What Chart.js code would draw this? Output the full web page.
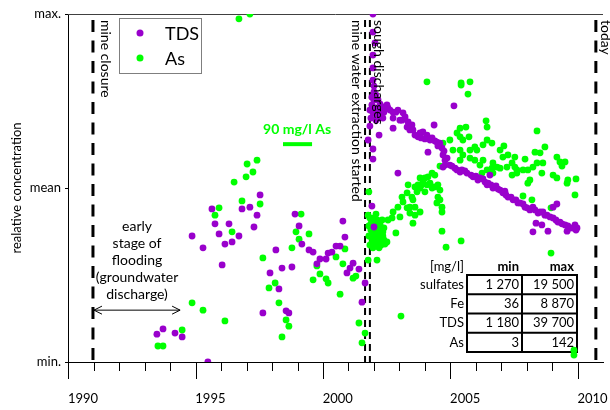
<!DOCTYPE html>
<html>
<head>
<meta charset="utf-8">
<script src="https://cdn.jsdelivr.net/npm/chart.js@4/dist/chart.umd.min.js"></script>
<style>
  html, body { margin: 0; padding: 0; background: #fff; }
  canvas { display: block; }
</style>
</head>
<body>
<canvas id="c" width="610" height="410"></canvas>
<script>
// Relative concentration (0 = min, 50 = mean, 100 = max) against time in years.
const tdsYears = [
  1992.90, 1993.14, 1993.61, 1993.89, 1994.28, 1994.71, 1994.90, 1995.06, 1995.18, 1995.34,
  1995.46, 1995.57, 1995.73, 1995.85, 1996.12, 1996.24, 1996.55, 1996.71, 1996.83, 1996.95,
  1997.06, 1997.34, 1997.57, 1997.69, 1997.81, 1997.97, 1998.08, 1998.20, 1998.32, 1998.48,
  1998.59, 1998.87, 1999.03, 1999.18, 1999.30, 1999.54, 1999.62, 1999.77, 1999.93, 2000.09,
  2000.20, 2000.28, 2000.36, 2000.48, 2000.60, 2000.83, 2000.95, 2001.07,
  2001.38, 2001.38, 2001.46, 2001.38, 2001.38, 2001.38, 2001.26, 2001.42, 2001.34, 2001.42,
  2001.50, 2001.58, 2001.66, 2001.34, 2001.46, 2001.58, 2001.74, 2001.38, 2001.54, 2001.70,
  2001.62, 2001.19, 2001.38, 2001.38, 2001.62, 2001.34, 2001.42, 2001.97, 2002.05, 2002.17,
  2002.36, 2002.56, 2002.52, 2002.17, 2002.44, 2002.17, 2002.72, 2002.83, 2003.03, 2003.15,
  2003.34, 2003.50, 2003.62, 2003.78, 2003.89, 2004.01, 2003.54, 2004.09, 2004.13, 2004.21,
  2004.13, 2004.40, 2004.56, 2004.68, 2004.80, 2005.07, 2005.31, 2005.58, 2005.78, 2005.97,
  2005.86, 2006.09, 2006.37, 2006.48, 2006.68, 2006.88, 2007.15, 2007.35, 2007.54, 2007.66,
  2007.94, 2008.21, 2008.45, 2008.60, 2008.45, 2008.72, 2008.92, 2009.11, 2009.31, 2009.39,
  2007.78, 2008.01, 2008.25, 2007.66, 2009.00, 2002.36,
  2001.26, 2001.81, 2001.50, 2001.30, 2001.77, 2001.42,
  2001.93, 2002.28, 2002.64, 2002.76, 2002.91, 2002.95, 2003.23, 2003.27, 2003.42, 2003.70,
  2003.81, 2003.93, 2004.17, 2004.29, 2004.21,
  2004.48, 2004.60, 2004.87, 2004.99, 2005.23, 2005.42, 2005.50, 2005.70, 2005.90, 2006.01,
  2006.21, 2006.29, 2006.56, 2006.60, 2006.80, 2006.99, 2007.07, 2007.27, 2007.43, 2007.74,
  2007.86, 2008.05, 2008.13, 2008.33, 2008.56, 2008.64, 2008.80, 2009.03, 2009.23, 2009.35
];
const tdsValues = [
  8.0, 9.5, 8.3, 7.2, 36.2, 32.8, 0.0, 44.0, 39.7, 36.8,
  27.9, 33.9, 39.7, 34.5, 36.2, 44.0, 44.5, 38.8, 42.2, 48.0,
  14.1, 25.6, 32.2, 21.0, 27.0, 14.7, 14.1, 27.3, 42.5, 39.1,
  33.9, 32.2, 31.6, 28.2, 29.6, 29.6, 31.3, 31.6, 33.3, 33.3,
  40.5, 35.9, 25.6, 27.0, 28.4, 26.7, 17.2, 22.7,
  100.0, 94.8, 91.7, 88.2, 84.5, 81.0, 67.8, 77.6, 76.1, 75.3,
  76.7, 75.3, 74.1, 73.9, 73.0, 72.4, 73.3, 71.6, 71.0, 71.6,
  70.1, 63.8, 61.2, 58.3, 65.2, 44.8, 38.8, 73.0, 72.4, 71.8,
  72.4, 71.6, 69.5, 70.1, 69.5, 67.2, 67.5, 66.7, 65.2, 64.7,
  66.1, 65.2, 63.8, 68.1, 63.2, 62.9, 60.3, 61.5, 59.5, 58.0,
  56.0, 56.6, 73.6, 55.2, 54.6, 54.3, 53.2, 52.9, 51.7, 53.7,
  50.9, 50.0, 49.4, 48.6, 47.4, 46.6, 45.7, 44.5, 43.7, 44.5,
  43.1, 42.2, 41.4, 45.4, 44.5, 40.2, 39.4, 38.5, 39.4, 38.5,
  39.9, 39.4, 37.6, 37.4, 37.6, 54.3,
  72.4, 71.8, 69.5, 70.1, 70.1, 79.3,
  73.9, 71.8, 70.4, 69.0, 68.1, 66.7, 65.8, 64.4, 64.1, 64.4,
  63.5, 62.1, 60.6, 58.6, 56.6,
  56.3, 55.7, 55.2, 54.9, 53.7, 53.4, 52.3, 52.6, 51.4, 50.9,
  50.6, 49.7, 49.1, 48.0, 47.4, 46.6, 45.7, 45.4, 44.3, 43.7,
  42.8, 43.1, 42.2, 41.7, 40.8, 40.2, 39.7, 39.1, 38.5, 37.9
];

const asYears = [
  1992.94, 1993.14, 1993.89, 1994.28, 1994.71, 1995.18, 1995.34, 1995.57, 1995.85, 1995.93,
  1996.12, 1996.24, 1996.40, 1996.44, 1996.55, 1996.67, 1996.83, 1996.95, 1997.06, 1997.30,
  1997.54, 1997.69, 1997.81, 1997.97, 1998.08, 1998.20, 1998.36, 1998.48, 1998.56, 1998.87,
  1999.03, 1999.18, 1999.30, 1999.54, 1999.62, 1999.93, 2000.09, 2000.20, 2000.28, 2000.60,
  2000.71, 2000.83, 2000.95, 2001.07, 2001.22, 2001.54,
  2001.26, 2001.34, 2001.42, 2001.50, 2001.58, 2001.66, 2001.34, 2001.46, 2001.77, 2001.66,
  2001.81, 2001.30, 2001.54, 2001.74, 2001.38, 2001.62, 2001.85, 2001.26, 2001.50, 2001.19,
  2001.93, 2002.48,
  2001.19, 2001.30, 2001.42, 2001.54, 2001.66, 2001.77, 2001.22, 2001.34, 2001.46, 2001.58,
  2001.70, 2001.50, 2001.22, 2001.81, 2001.38, 2001.62,
  2001.97, 2002.13, 2002.17, 2002.44, 2002.28, 2002.36, 2002.52, 2002.56, 2002.72, 2002.83,
  2002.72, 2002.83, 2002.91, 2002.95, 2003.03, 2003.03, 2003.23, 2002.95, 2002.76, 2003.03,
  2003.11, 2003.15, 2003.23, 2003.42, 2003.23, 2003.34, 2003.30, 2003.50, 2003.62, 2003.42,
  2003.54, 2003.70, 2003.81, 2003.70, 2003.81, 2003.93, 2004.01, 2003.93, 2004.01, 2003.89,
  2004.09, 2004.09, 2004.09, 2004.25, 2004.84, 2004.01, 2004.13, 2004.40, 2004.52,
  2003.50, 2004.84, 2005.19, 2004.84, 2005.11, 2005.82, 2005.86, 2007.82, 2004.80, 2005.03,
  2004.68, 2004.80, 2004.91, 2005.15, 2005.86, 2006.05, 2005.70, 2005.38, 2006.52, 2007.74,
  2007.94, 2008.13, 2004.80, 2005.19, 2005.46, 2006.37, 2006.48, 2006.68, 2006.95, 2007.35,
  2008.60, 2008.72, 2008.92, 2008.80, 2005.19, 2005.38, 2005.70, 2005.58, 2004.80, 2004.91,
  2006.09, 2006.25, 2006.37, 2006.64, 2006.84, 2006.95, 2007.03, 2007.27, 2007.46, 2007.66,
  2007.82, 2008.05, 2006.05, 2006.09, 2008.45, 2008.60, 2009.35, 2009.03, 2009.00, 2005.66,
  2005.86, 2006.84, 2007.03, 2007.54, 2007.46, 2008.01, 2007.27, 2009.31, 2007.62, 2008.37,
  2008.37, 2009.27, 2009.27
];
const asValues = [
  4.6, 4.6, 9.2, 17.0, 14.9, 42.2, 44.3, 11.8, 37.4, 51.7,
  98.6, 46.3, 53.2, 56.9, 100.0, 54.6, 58.0, 45.4, 29.9, 21.3,
  22.7, 17.0, 7.2, 12.1, 10.3, 32.8, 37.4, 35.3, 42.5, 36.8,
  23.6, 27.6, 25.3, 23.9, 22.7, 30.2, 19.5, 28.2, 32.5, 24.1,
  24.7, 11.2, 5.5, 8.3, 48.9, 29.3,
  41.4, 40.2, 39.1, 37.9, 36.8, 35.6, 35.6, 34.5, 36.2, 39.4,
  38.5, 37.9, 40.8, 40.8, 37.1, 34.5, 33.9, 33.6, 33.3, 29.3,
  34.5, 13.2,
  42.2, 39.7, 41.4, 39.1, 37.6, 37.4, 36.2, 34.2, 36.2, 35.1,
  33.6, 42.5, 39.1, 35.1, 32.8, 32.8,
  40.8, 41.4, 43.1, 41.7, 37.1, 44.5, 47.4, 46.0, 48.6, 44.5,
  44.3, 42.8, 47.4, 46.6, 44.5, 42.2, 43.1, 39.9, 50.9, 50.3,
  48.9, 50.9, 50.0, 48.9, 52.9, 51.7, 50.9, 50.9, 51.4, 52.9,
  53.2, 54.3, 53.7, 50.0, 50.3, 50.9, 49.4, 47.4, 46.6, 45.7,
  44.5, 43.1, 37.6, 33.0, 34.8, 56.3, 62.9, 63.8, 60.9,
  80.5, 80.2, 80.5, 79.6, 77.0, 69.3, 67.5, 66.4, 67.2, 67.5,
  65.8, 64.7, 63.8, 64.7, 63.8, 62.9, 62.4, 61.8, 62.1, 60.3,
  60.1, 61.8, 60.9, 60.9, 60.9, 60.9, 58.9, 59.5, 58.9, 58.3,
  58.9, 57.5, 57.5, 56.3, 58.6, 58.0, 58.0, 56.6, 58.0, 59.5,
  57.2, 56.0, 55.7, 56.0, 57.2, 56.0, 55.2, 55.2, 55.2, 56.0,
  57.2, 57.2, 55.7, 54.3, 53.7, 52.9, 52.6, 52.3, 51.4, 54.3,
  55.2, 53.7, 54.3, 52.3, 51.4, 54.3, 47.7, 48.0, 46.6, 44.3,
  31.3, 2.0, 3.4
];

// Axis labels
const yearLabels = [1990, 1995, 2000, 2005, 2010];
const levelTicks = [0, 50, 100];
const levelNames = ['min.', 'mean', 'max.'];

// Events marked by vertical dashed lines
const eventYears = [1990.39, 2001.07, 2001.26, 2010.13];
const eventNames = ['mine closure', 'mine water extraction started', 'sough discharges', 'today'];

// Concentration ranges table
const tableHeader = ['[mg/l]', 'min', 'max'];
const tableRows = ['sulfates', 'Fe', 'TDS', 'As'];
const tableMin = ['1 270', '36', '1 180', '3'];
const tableMax = ['19 500', '8 870', '39 700', '142'];

const PURPLE = '#9900cc';
const GREEN = '#00ff00';
const FONT = 'Lato, "Open Sans", sans-serif';

const firstTick = 1989.42;   // yearly tick marks start here
const tickCount = 21;

const decorations = {
  id: 'decorations',
  beforeDatasetsDraw(chart) {
    const { ctx, chartArea: a, scales: { x, y } } = chart;
    ctx.save();

    // upper frame line
    ctx.strokeStyle = '#404040';
    ctx.lineWidth = 1;
    ctx.beginPath();
    ctx.moveTo(a.left, Math.round(y.getPixelForValue(100)) + 0.5);
    ctx.lineTo(a.right, Math.round(y.getPixelForValue(100)) + 0.5);
    ctx.stroke();

    // yearly tick marks below the time axis, long every fifth year
    ctx.strokeStyle = '#000';
    for (let k = 0; k < tickCount; k++) {
      const px = Math.round(x.getPixelForValue(firstTick + k)) + 0.5;
      const len = k % 5 === 0 ? 17 : 9;
      ctx.beginPath();
      ctx.moveTo(px, a.bottom);
      ctx.lineTo(px, a.bottom + len);
      ctx.stroke();
    }

    // event lines: single heavy dashes, the two 2001 events as a thin pair
    eventYears.forEach((yr, i) => {
      const px = x.getPixelForValue(yr);
      const pair = i === 1 || i === 2;
      ctx.lineWidth = pair ? 2 : 3;
      ctx.setLineDash(pair ? [7, 5] : [12, 8.5]);
      ctx.beginPath();
      ctx.moveTo(px, a.top + 6);
      ctx.lineTo(px, a.bottom);
      ctx.stroke();
    });
    ctx.setLineDash([]);

    // early flooding arrow and note
    const ay = y.getPixelForValue(14.9);
    const ax1 = x.getPixelForValue(eventYears[0]) + 1;
    const ax2 = x.getPixelForValue(1993.81);
    ctx.lineWidth = 1;
    ctx.strokeStyle = '#000';
    ctx.beginPath();
    ctx.moveTo(ax1, ay); ctx.lineTo(ax2, ay);
    ctx.moveTo(ax1 + 8, ay - 4); ctx.lineTo(ax1, ay); ctx.lineTo(ax1 + 8, ay + 4);
    ctx.moveTo(ax2 - 8, ay - 4); ctx.lineTo(ax2, ay); ctx.lineTo(ax2 - 8, ay + 4);
    ctx.stroke();

    ctx.fillStyle = '#000';
    ctx.font = '14px ' + FONT;
    ctx.textAlign = 'center';
    ctx.textBaseline = 'middle';
    const nx = x.getPixelForValue(1992.12);
    const ny = y.getPixelForValue(38.8);
    ['early', 'stage of', 'flooding', '(groundwater', 'discharge)'].forEach((t, i) => {
      ctx.fillText(t, nx, ny + i * 17);
    });

    // arsenic scale note
    ctx.fillStyle = GREEN;
    ctx.font = 'bold 14px ' + FONT;
    ctx.fillText('90 mg/l As', x.getPixelForValue(1998.4), y.getPixelForValue(66.7));
    ctx.strokeStyle = GREEN;
    ctx.lineWidth = 4;
    ctx.beginPath();
    ctx.moveTo(x.getPixelForValue(1997.85), y.getPixelForValue(62.6));
    ctx.lineTo(x.getPixelForValue(1998.99), y.getPixelForValue(62.6));
    ctx.stroke();

    // concentration table
    const tl = a.right - 136, tr = a.right - 26, tm = a.right - 81;
    const tt = a.top + 261, rowH = 19.25;
    const tb = tt + rowH * 4;
    ctx.strokeStyle = '#000';
    ctx.lineWidth = 2;
    ctx.strokeRect(tl, tt, tr - tl, tb - tt);
    ctx.beginPath();
    ctx.moveTo(tm, tt); ctx.lineTo(tm, tb);
    for (let r = 1; r < 4; r++) {
      ctx.moveTo(tl, tt + r * rowH); ctx.lineTo(tr, tt + r * rowH);
    }
    ctx.stroke();

    ctx.fillStyle = '#000';
    ctx.textAlign = 'right';
    ctx.font = '13px ' + FONT;
    ctx.fillText(tableHeader[0], tl - 3, tt - 8);
    ctx.font = 'bold 13px ' + FONT;
    ctx.fillText(tableHeader[1], tm - 3, tt - 8);
    ctx.fillText(tableHeader[2], tr - 3, tt - 8);
    ctx.font = '13px ' + FONT;
    tableRows.forEach((name, r) => {
      const cy = tt + rowH * r + rowH / 2;
      ctx.fillText(name, tl - 3, cy);
      ctx.fillText(tableMin[r], tm - 3, cy);
      ctx.fillText(tableMax[r], tr - 3, cy);
    });

    // y-axis title
    ctx.save();
    ctx.translate(17, (a.top + a.bottom) / 2);
    ctx.rotate(-Math.PI / 2);
    ctx.textAlign = 'center';
    ctx.font = '13px ' + FONT;
    ctx.fillText('realative concentration', 0, 0);
    ctx.restore();

    ctx.restore();
  },
  afterDatasetsDraw(chart) {
    const { ctx, chartArea: a, scales: { x } } = chart;
    ctx.save();

    // event names, written downwards next to their lines
    const offsets = [13, -9, 9, 9.5];
    ctx.fillStyle = '#000';
    ctx.font = '14px ' + FONT;
    ctx.textAlign = 'left';
    ctx.textBaseline = 'middle';
    eventNames.forEach((name, i) => {
      ctx.save();
      ctx.translate(x.getPixelForValue(eventYears[i]) + offsets[i], a.top + 6);
      ctx.rotate(Math.PI / 2);
      ctx.fillText(name, 0, 0);
      ctx.restore();
    });

    // legend
    const lx = a.left + 51, ly = a.top + 4;
    ctx.fillStyle = '#fff';
    ctx.fillRect(lx, ly, 82, 55);
    ctx.strokeStyle = '#7f7f7f';
    ctx.lineWidth = 1;
    ctx.strokeRect(lx + 0.5, ly + 0.5, 82, 55);
    chart.data.datasets.forEach((ds, i) => {
      const cy = ly + 15 + i * 25;
      ctx.fillStyle = ds.backgroundColor;
      ctx.beginPath();
      ctx.arc(lx + 21, cy, 3.5, 0, Math.PI * 2);
      ctx.fill();
      ctx.fillStyle = '#000';
      ctx.font = '18px ' + FONT;
      ctx.fillText(ds.label, lx + 46, cy + 1);
    });

    ctx.restore();
  }
};

const toPoints = (xs, ys) => xs.map((t, i) => ({ x: t, y: ys[i] }));

new Chart(document.getElementById('c'), {
  type: 'scatter',
  data: {
    datasets: [
      { label: 'TDS', data: toPoints(tdsYears, tdsValues), backgroundColor: PURPLE, borderWidth: 0, pointRadius: 3.4 },
      { label: 'As', data: toPoints(asYears, asValues), backgroundColor: GREEN, borderWidth: 0, pointRadius: 3.4 }
    ]
  },
  options: {
    responsive: false,
    animation: false,
    devicePixelRatio: 1,
    layout: { padding: { top: 14, right: 7, left: 0, bottom: 0 } },
    plugins: { legend: { display: false }, tooltip: { enabled: false } },
    scales: {
      x: {
        type: 'linear',
        min: 1989.41,
        max: 2010.41,
        afterBuildTicks: s => { s.ticks = yearLabels.map(v => ({ value: v })); },
        afterFit: s => { s.height = 48; s.paddingLeft = 0; s.paddingRight = 0; },
        grid: { display: false, drawTicks: false },
        border: { display: true, color: '#000', width: 1 },
        ticks: {
          font: { family: FONT, size: 13 }, color: '#000', padding: 29,
          maxRotation: 0, autoSkip: false, callback: v => String(v)
        }
      },
      y: {
        min: 0,
        max: 100,
        afterBuildTicks: s => { s.ticks = levelTicks.map(v => ({ value: v })); },
        afterFit: s => { s.width = 68; s.paddingTop = 0; s.paddingBottom = 0; },
        grid: { drawOnChartArea: false, drawTicks: true, tickLength: 3, color: '#000' },
        border: { display: true, color: '#000', width: 1 },
        ticks: {
          font: { family: FONT, size: 13 }, color: '#000', padding: 4,
          callback: v => levelNames[levelTicks.indexOf(v)]
        }
      }
    }
  },
  plugins: [decorations]
});
</script>
</body>
</html>
